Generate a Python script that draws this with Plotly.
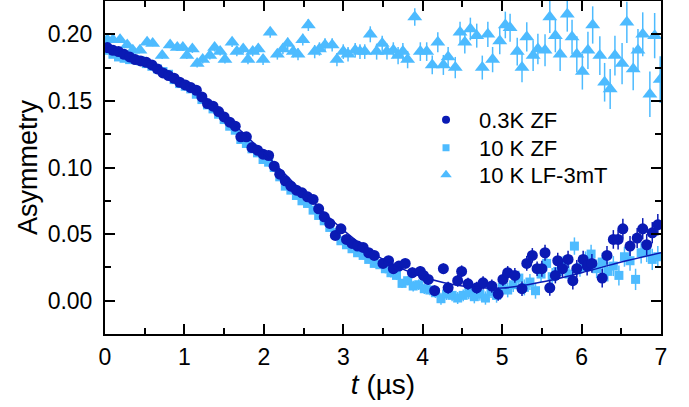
import plotly.graph_objects as go

# ---- data ----
circ_t = [0.03,0.10,0.17,0.24,0.31,0.38,0.45,0.52,0.59,0.66,
          0.73,0.80,0.87,0.94,1.01,1.08,1.15,1.22,1.29,1.36,
          1.43,1.50,1.57,1.64,1.71,1.78,1.85,1.92,1.99,2.06,
          2.13,2.20,2.27,2.34,2.41,2.48,2.55,2.62,2.69,2.76,
          2.83,2.90,2.97,3.04,3.11,3.18,3.25,3.32,3.39,3.50,
          3.57,3.63,3.70,3.78,3.87,3.97,4.01,4.07,4.15,4.26,
          4.32,4.44,4.49,4.57,4.68,4.76,4.87,4.95,5.01,5.07,
          5.16,5.25,5.31,5.38,5.44,5.50,5.54,5.60,5.67,5.70,
          5.76,5.83,5.89,5.94,6.02,6.07,6.13,6.26,6.32,6.40,
          6.46,6.52,6.61,6.70,6.77,6.82,6.89,6.96]
circ_y = [0.190,0.188,0.187,0.185,0.183,0.181,0.180,0.179,0.177,0.174,
          0.171,0.169,0.167,0.164,0.162,0.160,0.158,0.153,0.148,0.146,
          0.142,0.138,0.134,0.131,0.123,0.123,0.115,0.113,0.110,0.109,
          0.101,0.095,0.090,0.086,0.083,0.081,0.078,0.076,0.069,0.063,
          0.058,0.049,0.054,0.046,0.043,0.041,0.040,0.036,0.034,0.028,
          0.030,0.024,0.026,0.028,0.021,0.022,0.019,0.016,0.0075,0.024,
          0.0097,0.015,0.022,0.0127,0.0097,0.0134,0.011,0.005,0.016,0.021,
          0.019,0.009,0.028,0.034,0.024,0.024,0.036,0.0097,0.019,0.030,
          0.024,0.031,0.015,0.024,0.031,0.026,0.028,0.017,0.034,0.046,
          0.046,0.054,0.041,0.047,0.054,0.042,0.051,0.057]
circ_err = [0.001,0.001,0.001,0.001,0.001,0.001,0.001,0.001,0.001,0.001,
            0.0015,0.0015,0.0015,0.0015,0.0015,0.0015,0.0015,0.0015,0.0015,0.0015,
            0.002,0.002,0.002,0.002,0.002,0.002,0.002,0.002,0.002,0.002,
            0.0025,0.0025,0.0025,0.0025,0.0025,0.0025,0.0025,0.0025,0.0025,0.0025,
            0.003,0.003,0.003,0.003,0.003,0.003,0.003,0.003,0.003,0.0035,
            0.0035,0.0035,0.0035,0.0035,0.004,0.004,0.004,0.004,0.004,0.004,
            0.0045,0.0045,0.0045,0.0045,0.0045,0.005,0.005,0.005,0.005,0.005,
            0.0055,0.0055,0.0055,0.0055,0.0055,0.006,0.006,0.006,0.006,0.006,
            0.0065,0.0065,0.0065,0.0065,0.0065,0.007,0.007,0.007,0.007,0.007,
            0.0075,0.0075,0.0075,0.0075,0.008,0.008,0.008,0.008]

sq_t = [0.03,0.10,0.17,0.24,0.31,0.38,0.45,0.52,0.59,0.66,
        0.73,0.80,0.87,0.94,1.01,1.08,1.15,1.22,1.29,1.36,
        1.43,1.50,1.57,1.64,1.71,1.78,1.85,1.92,1.99,2.06,
        2.13,2.20,2.27,2.34,2.41,2.48,2.55,2.62,2.69,2.76,
        2.83,2.90,2.97,3.04,3.11,3.18,3.25,3.32,3.39,3.46,
        3.53,3.60,3.67,3.74,3.81,3.88,3.95,4.02,4.09,4.16,
        4.23,4.30,4.37,4.44,4.51,4.58,4.65,4.72,4.79,4.86,
        4.93,5.00,5.07,5.14,5.21,5.28,5.35,5.42,5.49,5.56,
        5.63,5.70,5.77,5.84,5.91,5.98,6.05,6.12,6.19,6.26,
        6.33,6.40,6.47,6.54,6.61,6.68,6.75,6.82,6.89,6.96]
sq_y = [0.188,0.185,0.183,0.182,0.181,0.181,0.180,0.178,0.176,0.174,
        0.172,0.170,0.166,0.163,0.161,0.159,0.155,0.151,0.147,0.144,
        0.140,0.136,0.131,0.128,0.121,0.118,0.114,0.111,0.106,0.104,
        0.100,0.093,0.086,0.083,0.079,0.075,0.073,0.068,0.064,0.060,
        0.055,0.051,0.045,0.042,0.039,0.036,0.034,0.031,0.028,0.027,
        0.024,0.021,0.019,0.013,0.015,0.011,0.012,0.009,0.008,0.006,
        0.0015,0.005,0.004,0.002,0.004,0.006,0.003,0.005,0.002,0.007,
        0.004,0.010,0.008,0.012,0.017,0.010,0.014,0.0075,0.020,0.028,
        0.018,0.022,0.027,0.020,0.041,0.025,0.030,0.035,0.024,0.029,
        0.022,0.026,0.019,0.033,0.030,0.016,0.036,0.037,0.031,0.033]
sq_err = [0.001,0.001,0.001,0.001,0.001,0.001,0.001,0.001,0.001,0.001,
          0.0015,0.0015,0.0015,0.0015,0.0015,0.0015,0.0015,0.0015,0.0015,0.0015,
          0.002,0.002,0.002,0.002,0.002,0.002,0.002,0.002,0.002,0.002,
          0.0025,0.0025,0.0025,0.0025,0.0025,0.0025,0.0025,0.0025,0.0025,0.0025,
          0.003,0.003,0.003,0.003,0.003,0.003,0.003,0.003,0.003,0.003,
          0.0035,0.0035,0.0035,0.0035,0.0035,0.004,0.004,0.004,0.004,0.004,
          0.0045,0.0045,0.0045,0.0045,0.0045,0.005,0.005,0.005,0.005,0.005,
          0.0055,0.0055,0.0055,0.0055,0.0055,0.006,0.006,0.006,0.006,0.006,
          0.0065,0.0065,0.0065,0.0065,0.0065,0.007,0.007,0.007,0.007,0.007,
          0.0075,0.0075,0.0075,0.0075,0.0075,0.008,0.008,0.008,0.008,0.008]

tri_t = [0.03,0.10,0.19,0.28,0.35,0.44,0.53,0.60,0.72,0.82,
         0.91,0.98,1.03,1.10,1.16,1.23,1.32,1.38,1.45,1.51,
         1.60,1.66,1.74,1.80,1.86,1.93,1.99,2.08,2.17,2.24,
         2.30,2.37,2.43,2.49,2.56,2.64,2.70,2.77,2.86,2.92,
         3.00,3.06,3.15,3.21,3.27,3.34,3.42,3.49,3.55,3.63,
         3.69,3.75,3.81,3.90,3.97,4.05,4.12,4.19,4.26,4.32,
         4.41,4.47,4.53,4.60,4.68,4.75,4.82,4.88,4.97,5.04,
         5.10,5.19,5.25,5.31,5.39,5.45,5.54,5.60,5.67,5.73,
         5.82,5.88,5.94,6.01,6.08,6.14,6.23,6.29,6.36,6.42,
         6.51,6.57,6.65,6.71,6.77,6.86,6.92,6.99]
tri_y = [0.196,0.196,0.196,0.192,0.188,0.188,0.194,0.193,0.184,0.192,
         0.190,0.190,0.184,0.189,0.178,0.181,0.184,0.190,0.187,0.181,
         0.194,0.187,0.189,0.181,0.187,0.189,0.181,0.2015,0.185,0.189,
         0.193,0.187,0.185,0.196,0.207,0.187,0.189,0.192,0.192,0.181,
         0.187,0.185,0.188,0.187,0.187,0.200,0.187,0.193,0.187,0.188,
         0.184,0.187,0.181,0.213,0.187,0.187,0.177,0.194,0.177,0.183,
         0.175,0.2015,0.194,0.204,0.199,0.175,0.200,0.181,0.195,0.207,
         0.205,0.187,0.175,0.198,0.184,0.189,0.188,0.213,0.199,0.185,
         0.215,0.198,0.185,0.172,0.188,0.207,0.184,0.164,0.159,0.184,
         0.178,0.209,0.174,0.188,0.200,0.155,0.199,0.166]
tri_err = [0.002,0.002,0.002,0.002,0.002,0.002,0.002,0.002,0.0025,0.0025,
           0.0025,0.0025,0.0025,0.003,0.003,0.003,0.003,0.003,0.003,0.003,
           0.0035,0.0035,0.0035,0.0035,0.0035,0.004,0.004,0.004,0.004,0.004,
           0.0045,0.0045,0.0045,0.0045,0.0045,0.005,0.005,0.005,0.005,0.005,
           0.0055,0.0055,0.0055,0.0055,0.0055,0.006,0.006,0.006,0.006,0.006,
           0.0065,0.0065,0.0065,0.0065,0.007,0.007,0.007,0.0075,0.0075,0.0075,
           0.008,0.008,0.0085,0.0085,0.009,0.009,0.0095,0.0095,0.010,0.010,
           0.0105,0.0105,0.011,0.011,0.0115,0.0115,0.012,0.012,0.0125,0.0125,
           0.013,0.013,0.0135,0.0135,0.014,0.014,0.0145,0.0145,0.015,0.015,
           0.0155,0.0155,0.016,0.016,0.0165,0.017,0.017,0.0175]

fit_t = [0.0,0.25,0.5,0.75,1.0,1.5,2.0,2.5,3.0,3.5,4.0,4.5,5.0,5.5,6.0,6.5,7.0]
fit_y = [0.190,0.187,0.181,0.173,0.164,0.139,0.111,0.081,0.053,0.031,0.018,0.011,0.0095,0.014,0.021,0.029,0.036]

names = ["0.3K ZF", "10 K ZF", "10 K LF-3mT"]

DARK = "#0A1AB4"
LIGHT = "#4DBBFF"
FONT = "Liberation Sans, Arial, sans-serif"

fig = go.Figure()

fig.add_trace(go.Scatter(x=tri_t, y=tri_y, mode="markers", showlegend=False,
                         marker=dict(symbol="triangle-up", size=13, color=LIGHT),
                         error_y=dict(type="data", array=tri_err, color=LIGHT, thickness=1.5, width=0)))
fig.add_trace(go.Scatter(x=sq_t, y=sq_y, mode="markers", showlegend=False,
                         marker=dict(symbol="square", size=9, color=LIGHT),
                         error_y=dict(type="data", array=sq_err, color=LIGHT, thickness=1.5, width=0)))
fig.add_trace(go.Scatter(x=circ_t, y=circ_y, mode="markers", showlegend=False,
                         marker=dict(symbol="circle", size=11, color=DARK),
                         error_y=dict(type="data", array=circ_err, color=DARK, thickness=1.5, width=0)))
fig.add_trace(go.Scatter(x=fit_t, y=fit_y, mode="lines", showlegend=False,
                         line=dict(color=DARK, width=1.5, shape="spline")))

# legend entries (one legend box per entry for exact row spacing)
fig.add_trace(go.Scatter(x=[None], y=[None], mode="markers", name=names[0], legend="legend",
                         marker=dict(symbol="circle", size=8, color=DARK)))
fig.add_trace(go.Scatter(x=[None], y=[None], mode="markers", name=names[1], legend="legend2",
                         marker=dict(symbol="square", size=7, color=LIGHT)))
fig.add_trace(go.Scatter(x=[None], y=[None], mode="markers", name=names[2], legend="legend3",
                         marker=dict(symbol="triangle-up", size=10, color=LIGHT)))

axis_common = dict(showline=True, linecolor="black", linewidth=2, mirror="allticks",
                   ticks="inside", ticklen=10, tickwidth=2, tickcolor="black",
                   showgrid=False, zeroline=False, automargin=False,
                   tickfont=dict(family=FONT, size=23, color="black"))

fig.update_xaxes(range=[0, 7], dtick=1, tick0=0, ticklabelstandoff=1,
                 minor=dict(dtick=0.5, ticks="inside", ticklen=6, tickwidth=2, tickcolor="black"),
                 title=dict(text="<i>t</i> (µs)", font=dict(family=FONT, size=28, color="black"), standoff=6),
                 **axis_common)
fig.update_yaxes(range=[-0.025, 0.225], dtick=0.05, tick0=0, tickformat=".2f", ticklabelstandoff=6,
                 minor=dict(dtick=0.025, ticks="inside", ticklen=6, tickwidth=2, tickcolor="black"),
                 title=dict(text="Asymmetry", font=dict(family=FONT, size=27, color="black"), standoff=2),
                 **axis_common)

leg_common = dict(x=0.554, xanchor="left", yanchor="top",
                  font=dict(family=FONT, size=22, color="black"),
                  bgcolor="rgba(0,0,0,0)", itemwidth=56)

fig.update_layout(width=689, height=407,
                  margin=dict(l=105, r=28, t=1, b=73),
                  paper_bgcolor="white", plot_bgcolor="white",
                  font=dict(family=FONT, color="black"),
                  legend=dict(y=0.706, **leg_common),
                  legend2=dict(y=0.622, **leg_common),
                  legend3=dict(y=0.541, **leg_common))

fig.write_html("out.html", post_script="document.body.style.margin='0px';",
               config={"displayModeBar": False})
